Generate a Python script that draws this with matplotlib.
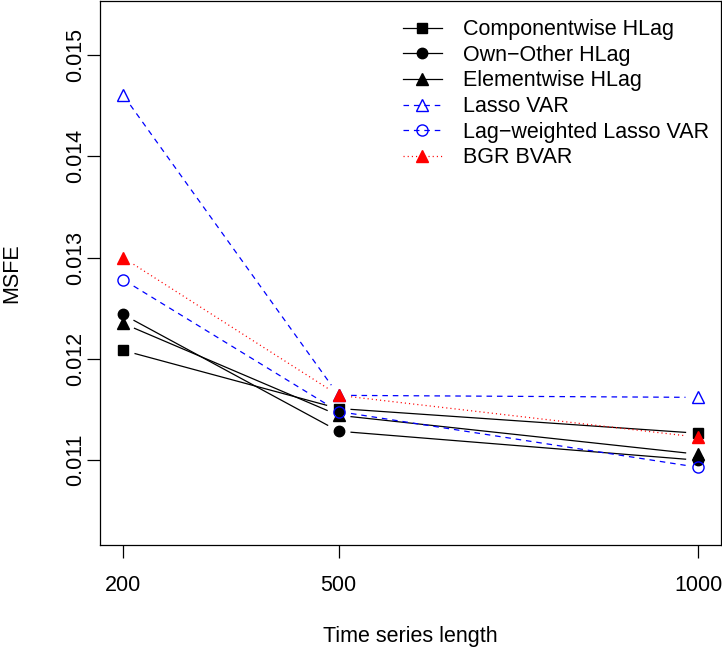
import matplotlib as mpl
import matplotlib.pyplot as plt
import numpy as np
from matplotlib.lines import Line2D

# data
lengths = [200, 500, 1000]
componentwise = [0.012084, 0.011510, 0.011266]
own_other = [0.012438, 0.011286, 0.011000]
elementwise = [0.012350, 0.011443, 0.011059]
lasso_var = [0.014606, 0.011640, 0.011620]
lag_weighted = [0.012783, 0.011480, 0.010930]
bgr_bvar = [0.013000, 0.011640, 0.011227]

labels = ['Componentwise HLag', 'Own\u2212Other HLag', 'Elementwise HLag',
          'Lasso VAR', 'Lag\u2212weighted Lasso VAR', 'BGR BVAR']
y_ticks = [0.011, 0.012, 0.013, 0.014, 0.015]

mpl.rcParams['font.family'] = ['Liberation Sans', 'DejaVu Sans']
mpl.rcParams['font.size'] = 15.5
mpl.rcParams['lines.scale_dashes'] = False

fig = plt.figure(figsize=(7.22, 6.47), dpi=100)
ax = fig.add_axes([100 / 722, 1 - 545 / 647, 621 / 722, 544 / 647])
ax.set_xlim(168, 1032)
ax.set_ylim(0.010163, 0.015532)

DASH = (0, (4, 3.5))
DOT = (0, (0.8, 2.2))

series = [
    (componentwise, dict(color='black', ls='-'), dict(marker='s', mfc='black', mec='black', ms=7)),
    (own_other, dict(color='black', ls='-'), dict(marker='o', mfc='black', mec='black', ms=7.5)),
    (elementwise, dict(color='black', ls='-'), dict(marker='^', mfc='black', mec='black', ms=8.5)),
    (lasso_var, dict(color='blue', ls=DASH), dict(marker='^', mfc='none', mec='blue', ms=9, mew=1)),
    (lag_weighted, dict(color='blue', ls=DASH), dict(marker='o', mfc='none', mec='blue', ms=8, mew=1)),
    (bgr_bvar, dict(color='red', ls=DOT), dict(marker='^', mfc='red', mec='red', ms=8.5)),
]


# R type="b": line segments stop short of the points
def draw_b(x, y, gap, **kw):
    pts = ax.transData.transform(np.column_stack([x, y]))
    inv = ax.transData.inverted()
    for p0, p1 in zip(pts[:-1], pts[1:]):
        u = (p1 - p0) / np.hypot(*(p1 - p0))
        a = inv.transform(p0 + u * gap)
        b = inv.transform(p1 - u * gap)
        ax.plot([a[0], b[0]], [a[1], b[1]], lw=0.9, **kw)


handles = []
for vals, line_kw, mk_kw in series:
    draw_b(lengths, vals, 12.5, **line_kw)
    ax.plot(lengths, vals, ls='none', **mk_kw)
    handles.append(Line2D([], [], lw=0.9, **line_kw, **mk_kw))

ax.set_xticks(lengths)
ax.set_yticks(y_ticks)
ax.set_yticklabels([f'{t:.3f}' for t in y_ticks], rotation=90, va='center')
ax.tick_params(length=9.4, width=0.9, pad=12)
ax.tick_params(axis='y', pad=0.5)
for s in ax.spines.values():
    s.set_linewidth(0.9)

ax.set_xlabel('Time series length', labelpad=22)
ax.set_ylabel('MSFE', labelpad=31)

ax.legend(handles, labels, loc='upper left', bbox_to_anchor=(0.488, 0.9665),
          frameon=False, borderpad=0, handlelength=1.8, handletextpad=0.98,
          labelspacing=0.215, borderaxespad=0)

fig.savefig('out.png', dpi=100)
